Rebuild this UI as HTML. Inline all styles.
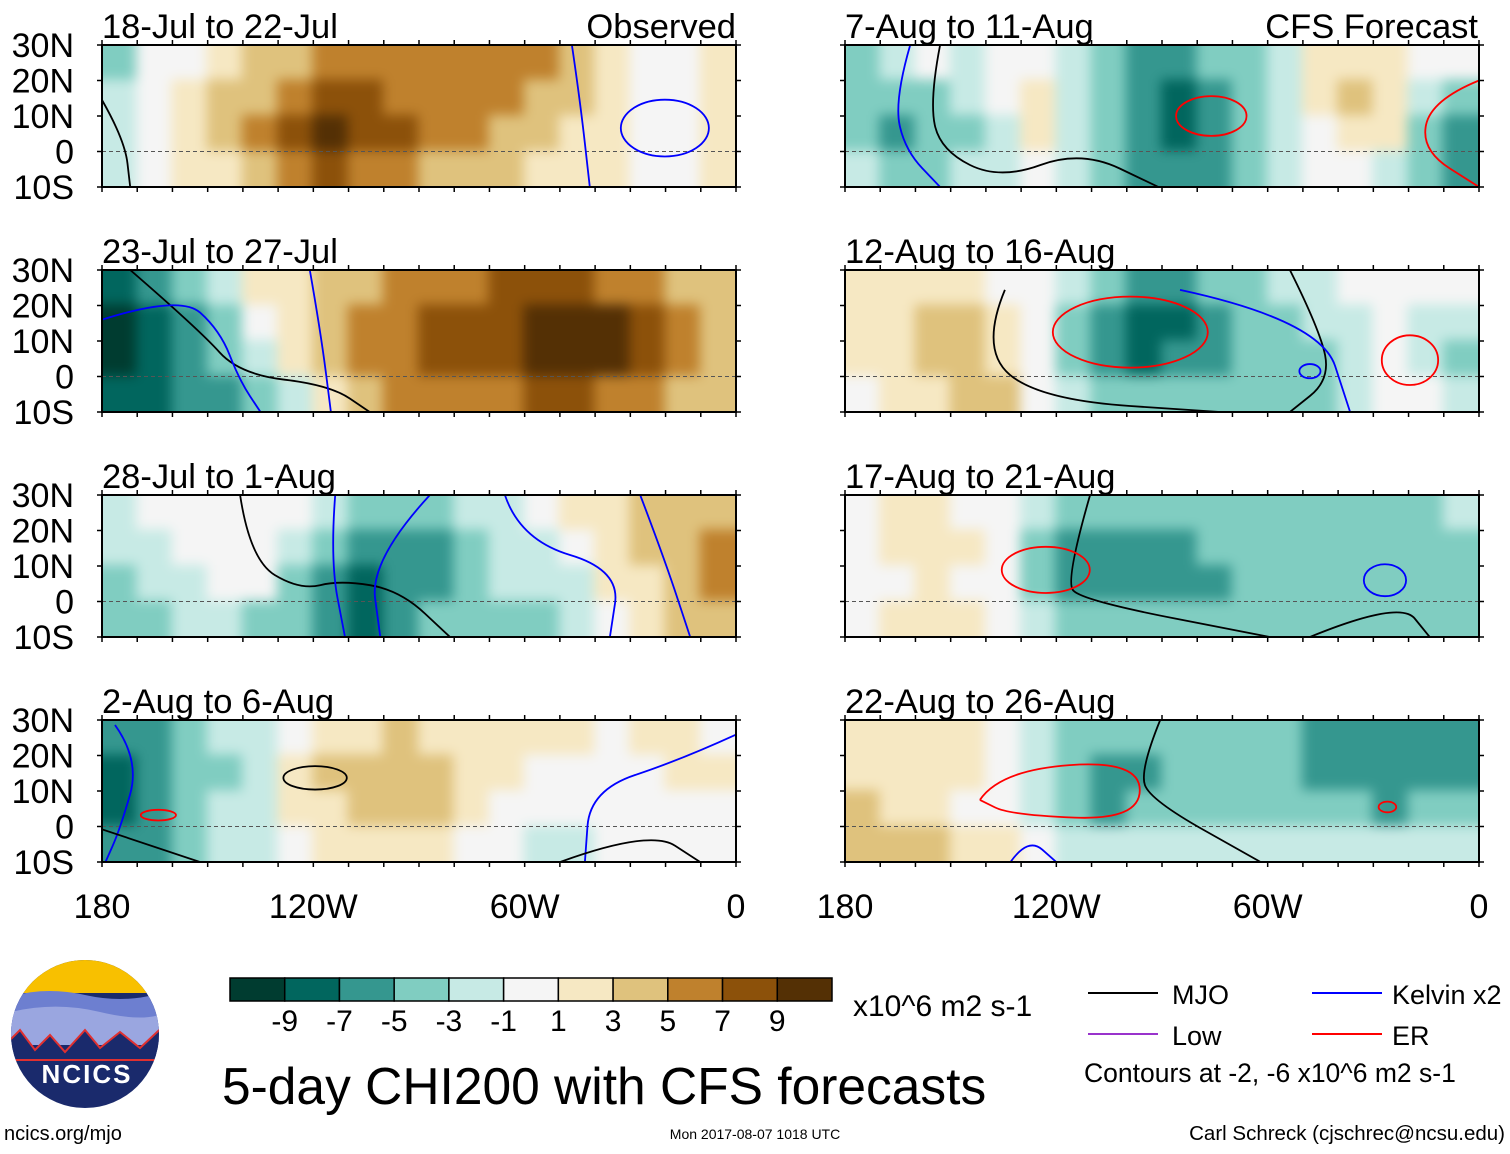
<!DOCTYPE html>
<html><head><meta charset="utf-8">
<style>
html,body{margin:0;padding:0;background:#fff;}
body{width:1510px;height:1149px;overflow:hidden;font-family:"Liberation Sans",sans-serif;}
svg text{font-family:"Liberation Sans",sans-serif;}
.bl{filter:blur(6px);}
</style></head>
<body>
<svg id="fig" width="1510" height="1149" viewBox="0 0 1510 1149">
</svg>
<script>
const titles=["18-Jul to 22-Jul","23-Jul to 27-Jul","28-Jul to 1-Aug","2-Aug to 6-Aug","7-Aug to 11-Aug","12-Aug to 16-Aug","17-Aug to 21-Aug","22-Aug to 26-Aug"];
const latLabels=["30N","20N","10N","0","10S"];
const lonLabels=["180","120W","60W","0"];
const lonTicks=[180,120,60,0];
const cbLabels=[-9,-7,-5,-3,-1,1,3,5,7,9];
const cbColors=["#003c30","#01665e","#35978f","#80cdc1","#c7eae5","#f5f5f5","#f6e8c3","#dfc27d","#bf812d","#8c510a","#543005"];
// field values per panel: rows 30-20N, 20-10N, 10-0, 0-10S; columns 180->0 each 10 deg
const p1=[[-3,0,0,2,3,4,5,5,5,5,6,6,5,3,1,0,0,2],[-2,0,2,3,4,6,7,7,6,6,6,5,4,3,1,0,0,2],[-2,0,1,3,5,7,10,8,7,6,5,4,3,2,1,0,0,1],[-1,0,1,2,4,6,7,6,5,4,3,3,2,1,1,0,0,1]];
const p2=[[-7,-5,-3,-1,1,2,3,4,5,6,6,7,7,7,6,5,4,3],[-9,-7,-5,-3,0,1,3,5,6,7,7,8,9,10,9,7,5,3],[-10,-7,-6,-4,-1,1,3,5,6,7,7,8,9,10,10,8,6,4],[-7,-7,-6,-5,-3,-1,2,4,5,5,6,6,7,7,6,5,4,3]];
const p3=[[-1,0,0,0,0,0,-1,-3,-3,-3,-2,-1,0,1,2,3,3,3],[-2,-1,0,0,0,-1,-3,-5,-5,-5,-3,-2,-1,0,2,3,4,5],[-3,-2,-1,0,0,-3,-5,-7,-6,-5,-3,-2,-2,-1,1,2,4,6],[-3,-3,-2,-2,-3,-4,-6,-8,-5,-3,-3,-3,-3,-2,0,2,3,4]];
const p4=[[-5,-5,-3,-2,-1,0,2,2,3,2,2,1,1,1,0,1,1,0],[-7,-6,-4,-3,-1,1,3,4,4,3,2,1,0,0,0,0,1,1],[-7,-5,-3,-2,-1,1,2,4,4,3,1,0,0,0,0,0,0,0],[-5,-5,-3,-2,-1,0,1,2,2,1,0,0,-1,-1,0,0,0,0]];
const p5=[[-3,-1,0,-1,0,0,-1,-3,-5,-5,-4,-3,-1,1,2,1,0,0],[-3,-4,-3,-2,0,1,-1,-3,-5,-7,-5,-3,-2,1,3,2,-1,-3],[-3,-5,-4,-3,-1,1,-1,-3,-6,-8,-6,-3,-2,0,2,1,-3,-5],[-2,-3,-3,-2,-1,0,-1,-3,-5,-6,-5,-3,-1,0,0,-1,-4,-5]];
const p6=[[1,1,2,1,0,0,-1,-3,-5,-5,-4,-3,-2,-1,0,0,0,0],[2,2,3,3,2,0,-3,-5,-8,-7,-5,-4,-3,-2,-1,0,-1,-2],[1,2,3,3,2,0,-3,-5,-7,-6,-5,-4,-3,-3,-1,0,-1,-3],[0,1,2,3,4,0,-2,-3,-4,-4,-4,-4,-3,-3,-1,0,0,-2]];
const p7=[[0,1,1,0,0,-1,-3,-3,-3,-3,-3,-3,-3,-3,-3,-3,-3,-2],[0,1,2,1,0,-3,-5,-5,-5,-5,-4,-3,-3,-3,-3,-3,-3,-3],[0,0,1,0,0,-3,-5,-5,-6,-5,-5,-4,-3,-3,-3,-3,-3,-3],[0,1,1,1,0,-1,-3,-3,-3,-4,-4,-3,-3,-3,-3,-3,-3,-3]];
const p8=[[1,1,2,1,0,-1,-3,-3,-4,-3,-3,-3,-3,-5,-5,-5,-5,-5],[2,2,2,1,0,-1,-3,-5,-5,-4,-3,-3,-3,-5,-5,-6,-5,-5],[3,2,1,0,0,-1,-3,-5,-4,-3,-3,-3,-3,-3,-4,-5,-4,-3],[3,4,3,2,1,0,-1,-1,-1,-1,-2,-2,-1,-1,-1,-1,-1,-1]];
const fields=[p1,p2,p3,p4,p5,p6,p7,p8];
// contour lines: [panel, type, lons(W), lats]
const lineLons=[
 [0,'kelvin',[46.6,44.3,41.5]],[0,'mjo',[180,173.5,172]],
 [1,'mjo',[172,152.2,141,115.3,104]],[1,'kelvin',[180,157.8,146.5,141,135]],[1,'kelvin',[121,118,115]],
 [2,'mjo',[140.8,138,123.8,112.4,95.4,81.2]],[2,'kelvin',[113.8,115.2,111]],[2,'kelvin',[86.9,103.9,101]],[2,'kelvin',[65.6,61.3,32.9,35.8]],[2,'kelvin',[27.2,20.2,13]],
 [3,'kelvin',[176.3,169.2,174.9,179]],[3,'mjo',[180,152.2]],[3,'kelvin',[0.2,15.9,41.4,42.9]],[3,'mjo',[49.9,24.4,10.2]],
 [4,'kelvin',[161.5,166,163,153]],[4,'mjo',[153,156,153,136,113,91]],[4,'er',[0,13.6,16.5,0]],
 [5,'mjo',[134.6,141.7,124.6,73.5]],[5,'mjo',[53.7,45.1,42.3,53.7]],[5,'kelvin',[84.9,45.1,36.6]],
 [6,'mjo',[110.4,117.4,113.2,59.4]],[6,'mjo',[48,22.5,14]],
 [7,'er',[141.7,136,96.3,96.3,133,141.7]],[7,'mjo',[90.5,96.3,93.4,62]],[7,'kelvin',[133,128,120]]
];
const lineLats=[
 [30,14.5,-10],[14.5,3.2,-10],
 [30,13,0.6,-2.4,-10],[16,23,13,-1,-10],[30,13,-10],
 [30,11.7,3.2,6,3.2,-10],[30,11.7,-10],[30,11.7,-10],[30,17.3,8.9,-10],[30,11.7,-10],
 [28.6,18.7,-0.8,-10],[-0.8,-10],[25.8,18.7,10.3,-10],[-10,-0.8,-10],
 [30,14.5,0.4,-10],[30,14.5,0.4,-8,0.4,-10],[20,14.5,0.4,-10],
 [24.4,7.5,-6.6,-10],[30,13,-1,-10],[24.4,15.9,-10],
 [30,6,0.4,-10],[-10,0.4,-10],
 [7.5,15.9,18.7,1.8,3.2,7.5],[30,15.9,7.5,-10],[-10,-3,-10]
];
// closed ellipses: [panel, type, centerLonW, centerLat, radiusLon, radiusLat]
const ellipses=[
 [0,'kelvin',20.2,6.6,12.5,8],
 [3,'mjo',119.5,13.7,9,3.3],[3,'er',164,3.2,5,1.5],
 [4,'er',76,10,10,5.6],
 [5,'er',99,12.5,22,10],[5,'er',19.6,4.6,8,7],[5,'kelvin',48,1.5,3,2],
 [6,'er',123,8.9,12.5,6.5],[6,'kelvin',26.7,6,6,4.5],
 [7,'er',26,5.5,2.5,1.5]
];
const lineColor={mjo:'#000000',kelvin:'#0000ff',er:'#ff0000',low:'#9933cc'};

const NS="http://www.w3.org/2000/svg";
const svg=document.getElementById('fig');
function el(t,a,p){const e=document.createElementNS(NS,t);for(const k in a)e.setAttribute(k,a[k]);(p||svg).appendChild(e);return e;}
function colorOf(v){let i=0;for(const b of cbLabels){if(v>0?v>=b:v>b)i++;}return cbColors[i];}
const PW=634,PH=142,colX=[102,845],rowY=[45,270,495,720];
function xOf(x0,lonW){return x0+(180-lonW)/180*PW;}
function yOf(y0,lat){return y0+(30-lat)/40*PH;}
const defs=el('defs',{});
const clipGroups=[];

fields.forEach((f,pi)=>{
  const x0=colX[pi<4?0:1],y0=rowY[pi%4];
  const g=el('g',{});
  
  
  const cp=el('clipPath',{id:'c'+pi},defs);
  el('rect',{x:x0,y:y0,width:PW,height:PH},cp);
  const cg=el('g',{'clip-path':'url(#c'+pi+')'},g);
  clipGroups.push(cg);
  const fg=el('g',{'class':'bl'},cg);
  el('rect',{x:x0-20,y:y0-20,width:PW+40,height:PH+40,fill:'#f5f5f5'},fg);
  f.forEach((row,ri)=>row.forEach((v,ci)=>{
    let xa=xOf(x0,180-ci*10),xb=xOf(x0,170-ci*10),ya=yOf(y0,30-ri*10),yb=yOf(y0,20-ri*10);
    if(ci==0)xa-=20; if(ci==17)xb+=20; if(ri==0)ya-=20; if(ri==3)yb+=20;
    const r=el('rect',{x:xa-1,y:ya-1,width:xb-xa+2,height:yb-ya+2,fill:colorOf(v)},fg);
    
    
  }));
  const eq=el('line',{x1:x0,x2:x0+PW,y1:yOf(y0,0),y2:yOf(y0,0),stroke:'#555','stroke-dasharray':'4,3','stroke-width':1},cg);
  
  
  el('rect',{x:x0,y:y0,width:PW,height:PH,fill:'none',stroke:'#000','stroke-width':2},g);
  for(let l=180;l>=0;l-=10){const x=xOf(x0,l);el('line',{x1:x,x2:x,y1:y0,y2:y0-5,stroke:'#000','stroke-width':1.5},g);el('line',{x1:x,x2:x,y1:y0+PH,y2:y0+PH+5,stroke:'#000','stroke-width':1.5},g);}
  for(let la=30;la>=-10;la-=10){const y=yOf(y0,la);el('line',{x1:x0,x2:x0-5,y1:y,y2:y,stroke:'#000','stroke-width':1.5},g);el('line',{x1:x0+PW,x2:x0+PW+5,y1:y,y2:y,stroke:'#000','stroke-width':1.5},g);}
  const t=el('text',{x:x0,y:y0-7,'font-size':34.5,fill:'#000'},g);t.textContent=titles[pi];
  
  
  if(pi<4){latLabels.forEach((s,i)=>{const tt=el('text',{x:74,y:yOf(y0,30-i*10)+12,'font-size':34,'text-anchor':'end'},g);tt.textContent=s;
    
    });}
});
function panelOrigin(pi){return [colX[pi<4?0:1],rowY[pi%4]];}
lineLons.forEach(([pi,type,lons],k)=>{
  const [x0,y0]=panelOrigin(pi);const lats=lineLats[k];
  const pts=lons.map((lo,i)=>xOf(x0,lo).toFixed(1)+','+yOf(y0,lats[i]).toFixed(1));
  // smooth with quadratic midpoints
  let d='M'+pts[0];
  const P=lons.map((lo,i)=>[xOf(x0,lo),yOf(y0,lats[i])]);
  for(let i=1;i<P.length-1;i++){const mx=(P[i][0]+P[i+1][0])/2,my=(P[i][1]+P[i+1][1])/2;d+=' Q'+P[i][0].toFixed(1)+','+P[i][1].toFixed(1)+' '+mx.toFixed(1)+','+my.toFixed(1);}
  d+=' L'+P[P.length-1][0].toFixed(1)+','+P[P.length-1][1].toFixed(1);
  const p=el('path',{d:d,fill:'none',stroke:lineColor[type],'stroke-width':1.8},clipGroups[pi]);
  
  
});
ellipses.forEach(([pi,type,lo,la,rlo,rla])=>{
  const [x0,y0]=panelOrigin(pi);
  const e=el('ellipse',{cx:xOf(x0,lo),cy:yOf(y0,la),rx:rlo/180*PW,ry:rla/40*PH,fill:'none',stroke:lineColor[type],'stroke-width':1.8},clipGroups[pi]);
  
  
});
[["Observed",736],["CFS Forecast",1478]].forEach(([s,x])=>{const t=el('text',{x:x,y:38,'font-size':34.5,'text-anchor':'end'});t.textContent=s;
  
  });
colX.forEach(x0=>lonTicks.forEach((l,i)=>{const t=el('text',{x:xOf(x0,l),y:918,'font-size':34,'text-anchor':'middle'});t.textContent=lonLabels[i];
  
  }));
// colorbar
const cbx=230,cbw=602/11;
cbColors.forEach((c,i)=>{const r=el('rect',{x:cbx+i*cbw,y:978,width:cbw,height:23,fill:c,stroke:'#000','stroke-width':1.5});
  
  });
cbLabels.forEach((v,i)=>{const t=el('text',{x:cbx+(i+1)*cbw,y:1031,'font-size':30,'text-anchor':'middle'});t.textContent=v;
  
  });
function txt(s,x,y,fs,anchor,name){const t=el('text',{x:x,y:y,'font-size':fs,'text-anchor':anchor||'start'});t.textContent=s;
  
  return t;}
txt("x10^6 m2 s-1",853,1016,30,'start','colorbar-units');
txt("5-day CHI200 with CFS forecasts",222,1104,51.5,'start','main-title');
txt("ncics.org/mjo",4,1140,20,'start','url-label');
txt("Mon 2017-08-07 1018 UTC",755,1139,14,'middle','timestamp');
txt("Carl Schreck (cjschrec@ncsu.edu)",1505,1140,20.5,'end','author-credit');
// legend
[["MJO","#000",1088,1172,1004],["Kelvin x2","#0000ff",1312,1392,1004],["Low","#9933cc",1088,1172,1045],["ER","#ff0000",1312,1392,1045]].forEach(([s,c,lx,tx,y])=>{
  const l=el('line',{x1:lx,x2:lx+70,y1:y-11,y2:y-11,stroke:c,'stroke-width':2});
  
  
  txt(s,tx,y,27,'start','legend-entry');
});
txt("Contours at -2, -6 x10^6 m2 s-1",1084,1082,26.5,'start','contour-note');
// logo
const lg=el('g',{});


const lcp=el('clipPath',{id:'lc'},defs);
el('circle',{cx:85,cy:1034,r:74},lcp);
const lc=el('g',{'clip-path':'url(#lc)'},lg);
el('rect',{x:0,y:950,width:170,height:170,fill:'#1a2a6c'},lc);
el('rect',{x:0,y:955,width:170,height:38,fill:'#f8c000'},lc);
el('path',{d:'M0,1000 Q40,985 85,995 T170,990 L170,1040 L0,1040Z',fill:'#6d7fd0'},lc);
el('path',{d:'M0,1015 Q50,1000 100,1012 T170,1010 L170,1045 L0,1045Z',fill:'#9aa6e0'},lc);
el('path',{d:'M0,1050 L20,1030 L35,1050 L50,1035 L65,1052 L85,1030 L100,1048 L120,1032 L140,1048 L170,1020 L170,1060 L0,1060Z',fill:'#1a2a6c',stroke:'#e03030','stroke-width':2},lc);
const lt=el('text',{x:87,y:1083,'font-size':26,'font-weight':'bold',fill:'#fff','text-anchor':'middle','letter-spacing':'2'},lg);lt.textContent="NCICS";
</script>
</body></html>
